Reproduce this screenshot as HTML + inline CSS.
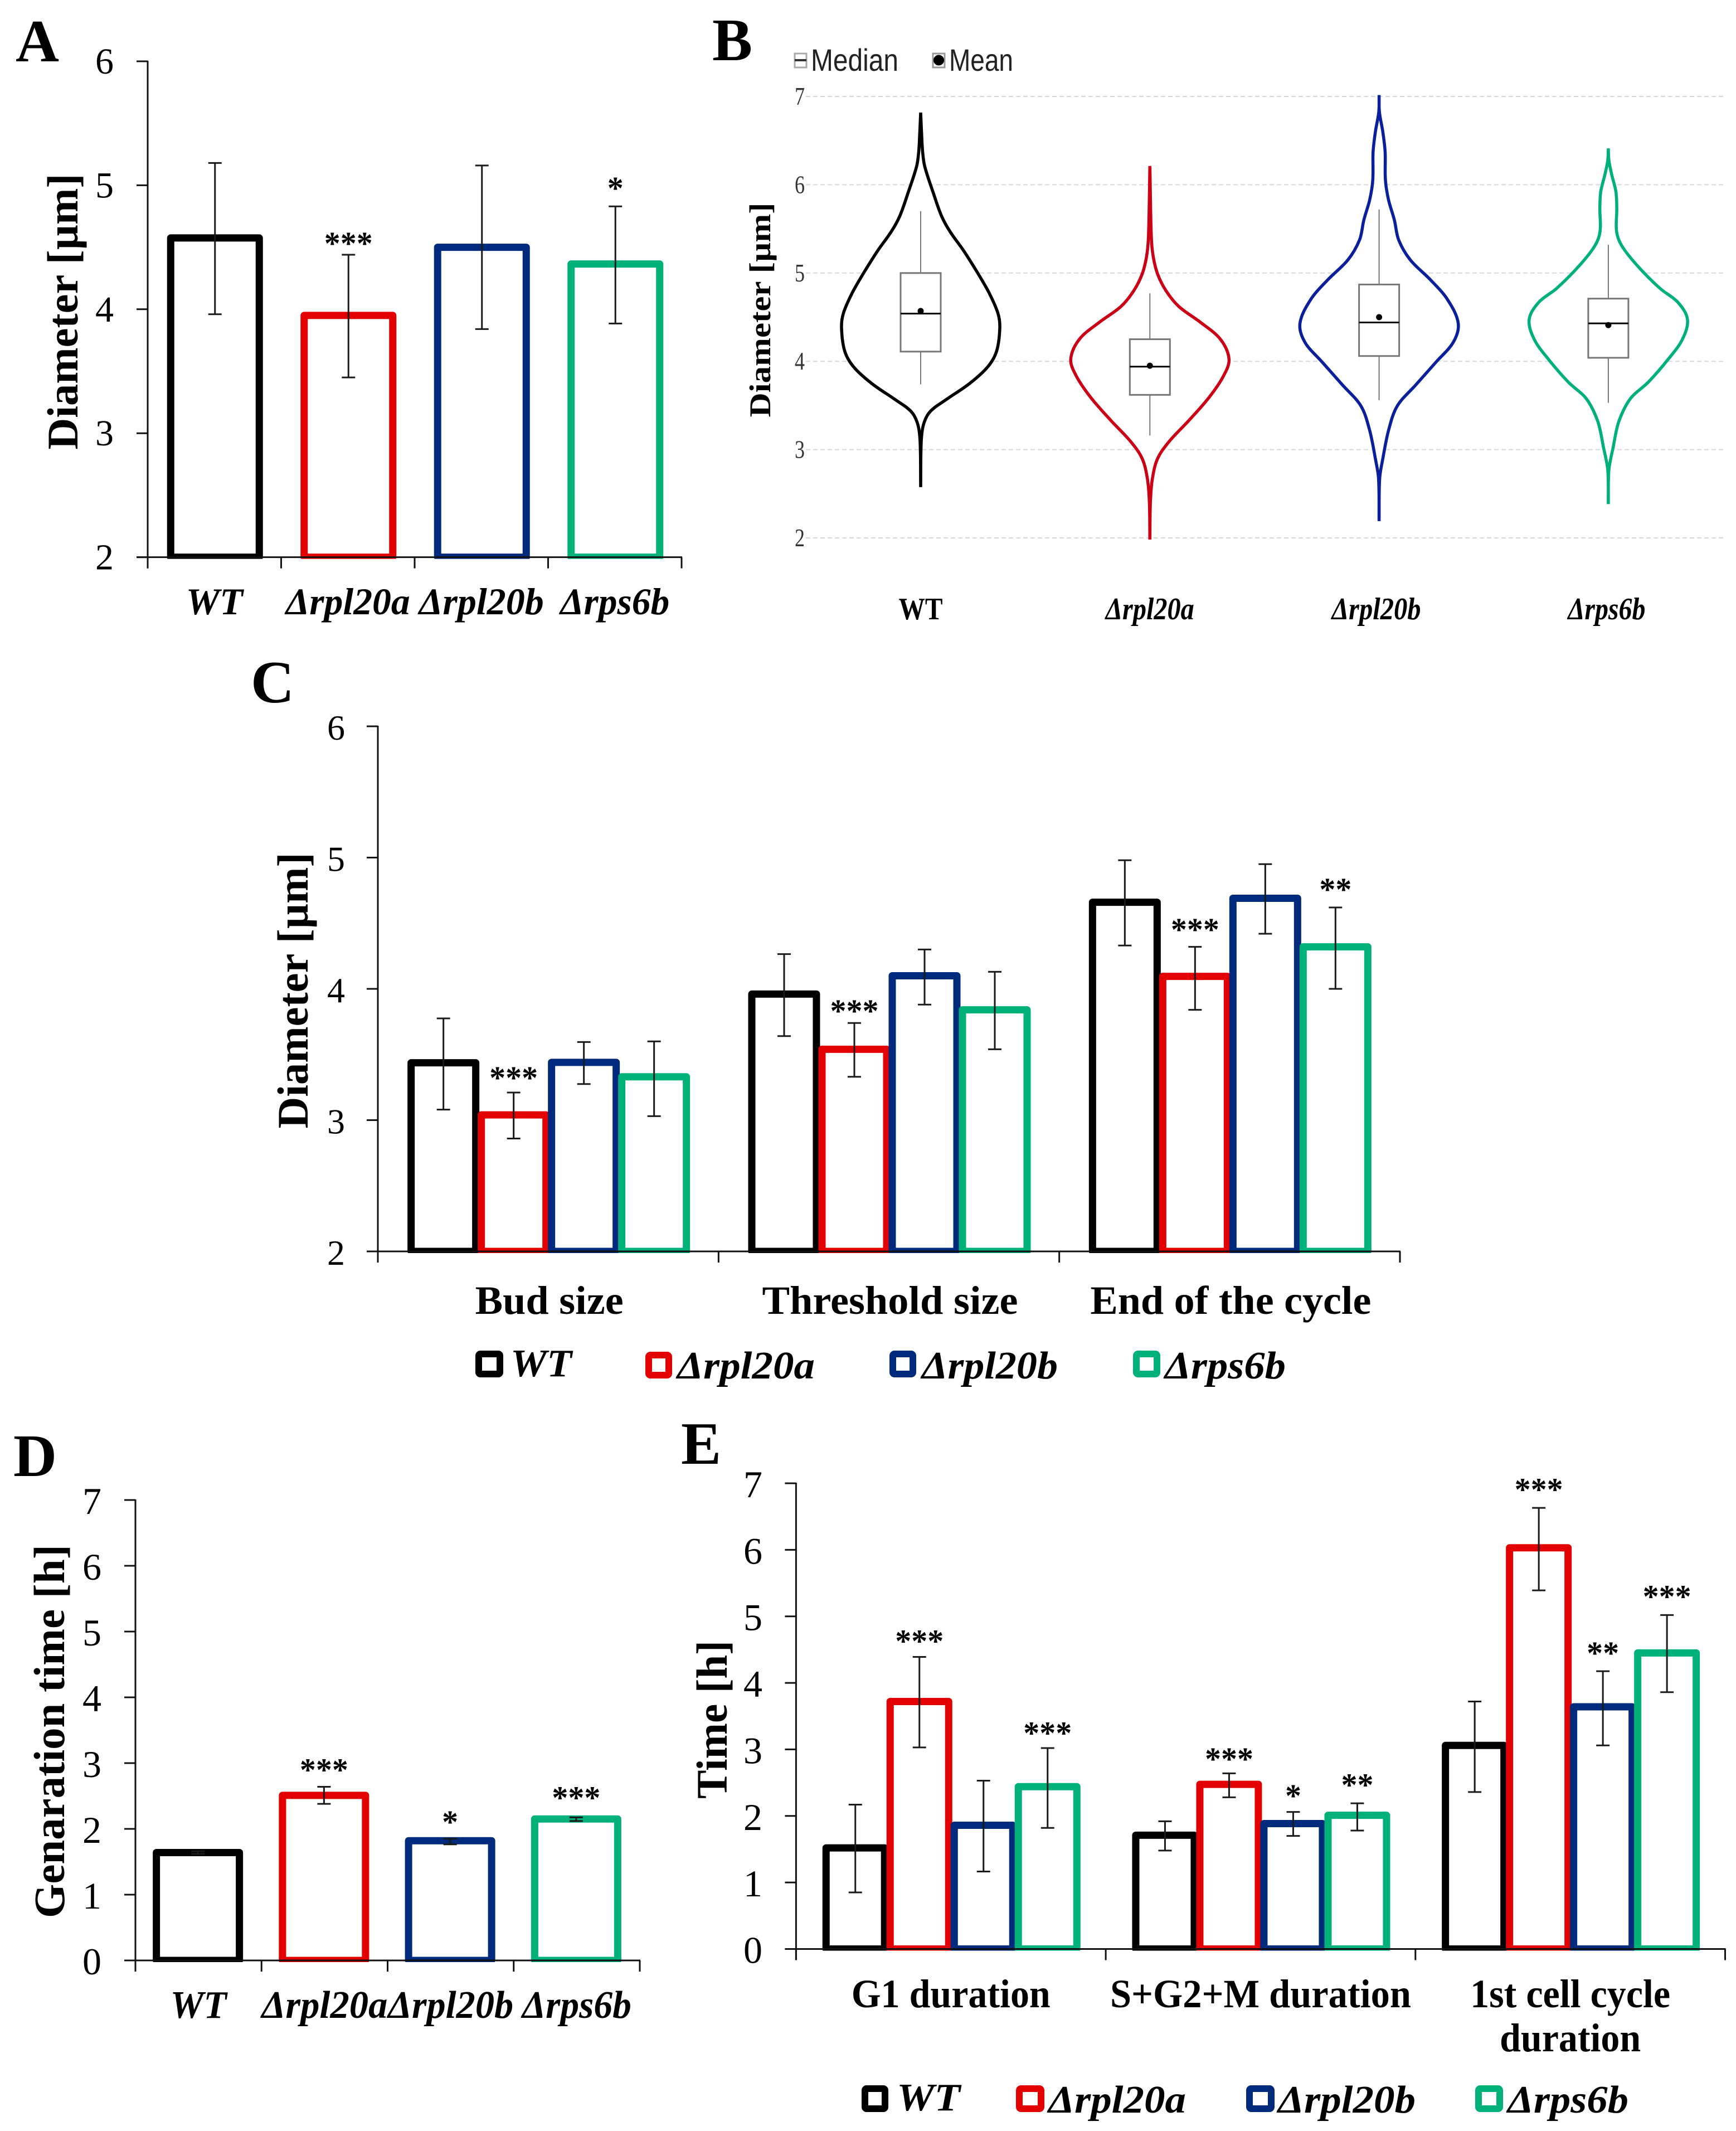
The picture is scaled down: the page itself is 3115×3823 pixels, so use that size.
<!DOCTYPE html>
<html lang="en">
<head>
<meta charset="utf-8">
<title>Cell size and cell cycle duration charts</title>
<style>
html,body{margin:0;padding:0;background:#fff;}
svg{display:block;}
text{font-family:"Liberation Serif","DejaVu Serif",serif;fill:#000;}
.letter{font-size:108px;font-weight:bold;}
.title{font-size:78px;font-weight:bold;}
.leg{font-size:70px;font-weight:bold;font-style:italic;}
.sans{font-family:"Liberation Sans","DejaVu Sans",sans-serif;fill:#222;}
</style>
</head>
<body>
<svg id="figure" xmlns="http://www.w3.org/2000/svg" width="3115" height="3823" viewBox="0 0 3115 3823">
  <rect x="0" y="0" width="3115" height="3823" fill="#fff"/>

  <text class="letter" x="28" y="110">A</text>
  <text class="letter" x="1278" y="108">B</text>
  <text class="letter" x="450" y="1260">C</text>
  <text class="letter" x="24" y="2648">D</text>
  <text class="letter" x="1222" y="2626">E</text>

  <text class="title" transform="translate(139 559) rotate(-90)" text-anchor="middle" textLength="495" lengthAdjust="spacingAndGlyphs">Diameter [µm]</text>
  <text class="title" style="font-size:54px" transform="translate(1382 556) rotate(-90)" text-anchor="middle" textLength="385" lengthAdjust="spacingAndGlyphs">Diameter [µm]</text>
  <text class="title" transform="translate(552 1777) rotate(-90)" text-anchor="middle" textLength="495" lengthAdjust="spacingAndGlyphs">Diameter [µm]</text>
  <text class="title" transform="translate(115 3106) rotate(-90)" text-anchor="middle" textLength="670" lengthAdjust="spacingAndGlyphs">Genaration time [h]</text>
  <text class="title" transform="translate(1304 3085) rotate(-90)" text-anchor="middle" textLength="284" lengthAdjust="spacingAndGlyphs">Time [h]</text>

  <g>
    <rect x="1426" y="96" width="21" height="25" fill="#fff" stroke="#aaa" stroke-width="3"/>
    <line x1="1426" y1="108" x2="1447" y2="108" stroke="#333" stroke-width="4"/>
    <text class="sans" x="1455" y="127" font-size="56" textLength="157" lengthAdjust="spacingAndGlyphs">Median</text>
    <rect x="1674" y="96" width="21" height="25" fill="#fff" stroke="#999" stroke-width="3"/>
    <circle cx="1684.500" cy="108" r="9.500" fill="#000"/>
    <text class="sans" x="1703" y="127" font-size="56" textLength="115" lengthAdjust="spacingAndGlyphs">Mean</text>
  </g>

  <g>
    <rect x="859" y="2429" width="38" height="36" rx="3" fill="#fff" stroke="#000" stroke-width="12"/>
    <text class="leg" x="916" y="2469" textLength="110" lengthAdjust="spacingAndGlyphs">WT</text>
    <rect x="1164" y="2431" width="36" height="36" rx="3" fill="#fff" stroke="#e30000" stroke-width="12"/>
    <text class="leg" x="1215" y="2473" textLength="247" lengthAdjust="spacingAndGlyphs">Δrpl20a</text>
    <rect x="1602" y="2429" width="36" height="36" rx="3" fill="#fff" stroke="#002a7c" stroke-width="12"/>
    <text class="leg" x="1654" y="2473" textLength="244" lengthAdjust="spacingAndGlyphs">Δrpl20b</text>
    <rect x="2039" y="2429" width="37" height="36" rx="3" fill="#fff" stroke="#00b17a" stroke-width="12"/>
    <text class="leg" x="2090" y="2473" textLength="217" lengthAdjust="spacingAndGlyphs">Δrps6b</text>
  </g>

  <g>
    <rect x="1552" y="3747" width="36" height="36" rx="3" fill="#fff" stroke="#000" stroke-width="12"/>
    <text class="leg" x="1609" y="3786" textLength="114" lengthAdjust="spacingAndGlyphs">WT</text>
    <rect x="1829" y="3747" width="39" height="36" rx="3" fill="#fff" stroke="#e30000" stroke-width="12"/>
    <text class="leg" x="1881" y="3790" textLength="247" lengthAdjust="spacingAndGlyphs">Δrpl20a</text>
    <rect x="2242" y="3747" width="39" height="36" rx="3" fill="#fff" stroke="#002a7c" stroke-width="12"/>
    <text class="leg" x="2293" y="3790" textLength="247" lengthAdjust="spacingAndGlyphs">Δrpl20b</text>
    <rect x="2653" y="3747" width="38" height="36" rx="3" fill="#fff" stroke="#00b17a" stroke-width="12"/>
    <text class="leg" x="2705" y="3790" textLength="217" lengthAdjust="spacingAndGlyphs">Δrps6b</text>
  </g>
</svg>

<script>
// ---------- Panel A data ----------
const strainNames = ['WT', 'Δrpl20a', 'Δrpl20b', 'Δrps6b'];
const aTicks = ['2', '3', '4', '5', '6'];
const aValues = [4.575, 3.95, 4.5, 4.365];
const aHigh = [5.18, 4.44, 5.16, 4.83];
const aLow = [3.96, 3.45, 3.84, 3.885];
const aStars = ['', '***', '', '*'];
const aStarLevels = [0, 4.565, 0, 5.01];

// ---------- Panel B data ----------
const bTicks = ['2', '3', '4', '5', '6', '7'];
const bLevelsWT = [6.817,6.533,6.373,6.212,5.922,5.649,5.472,5.246,4.989,4.764,4.539,4.378,4.12,3.943,3.75,3.573,3.429,3.284,3.09,2.576];
const bDensityWT = [0,.014,.025,.05,.154,.262,.369,.548,.728,.871,.978,1,.961,.853,.62,.333,.118,.036,.007,0];
const bLevelsA = [6.212,5.407,5.182,4.989,4.796,4.619,4.442,4.249,4.024,3.831,3.59,3.332,3.091,2.898,2.672,2.415,1.981];
const bDensityA = [0,.018,.043,.097,.206,.368,.639,.892,1,.928,.747,.495,.242,.097,.032,.007,0];
const bLevelsB = [7.016,6.823,6.598,6.373,6.051,5.826,5.6,5.375,5.15,4.925,4.699,4.43,4.217,3.992,3.734,3.493,3.22,2.898,2.672,2.19];
const bDensityB = [0,.004,.047,.076,.08,.12,.193,.247,.393,.647,.865,1,.938,.72,.465,.229,.12,.047,.007,0];
const bLevelsS = [6.411,6.276,6.115,5.922,5.729,5.472,5.311,5.086,4.828,4.667,4.474,4.249,4.024,3.766,3.573,3.316,3.026,2.769,2.383];
const bDensityS = [0,.007,.043,.096,.107,.104,.168,.364,.65,.88,1,.936,.757,.507,.275,.132,.061,.007,0];
const bBoxQ3 = [5.0, 4.25, 4.87, 4.71];
const bBoxQ1 = [4.11, 3.62, 4.06, 4.04];
const bMedian = [4.54, 3.94, 4.44, 4.43];
const bMean = [4.57, 3.95, 4.5, 4.41];
const bWhiskerHigh = [5.7, 4.77, 5.72, 5.32];
const bWhiskerLow = [3.74, 3.16, 3.56, 3.53];

// ---------- Panel C data ----------
const cCategories = ['Bud size', 'Threshold size', 'End of the cycle'];
const cTicks = ['2', '3', '4', '5', '6'];
const cValuesWT = [3.437, 3.96, 4.66];
const cHighWT = [3.775, 4.265, 4.98];
const cLowWT = [3.08, 3.64, 4.33];
const cValuesA = [3.04, 3.54, 4.095];
const cHighA = [3.21, 3.74, 4.32];
const cLowA = [2.86, 3.33, 3.84];
const cValuesB = [3.44, 4.1, 4.69];
const cHighB = [3.595, 4.3, 4.95];
const cLowB = [3.275, 3.88, 4.42];
const cValuesS = [3.33, 3.84, 4.32];
const cHighS = [3.6, 4.13, 4.62];
const cLowS = [3.03, 3.54, 4.0];
const cStarsA = ['***', '***', '***'];
const cStarLevelsA = [3.354, 3.865, 4.484];
const cStarsS = ['', '', '**'];
const cStarLevelsS = [0, 0, 4.79];

// ---------- Panel D data ----------
const dTicks = ['0', '1', '2', '3', '4', '5', '6', '7'];
const dValues = [1.64, 2.51, 1.82, 2.15];
const dHigh = [1.66, 2.64, 1.85, 2.175];
const dLow = [1.62, 2.38, 1.765, 2.12];
const dStars = ['', '***', '*', '***'];
const dStarLevels = [0, 2.96, 2.17, 2.54];

// ---------- Panel E data ----------
const eCategories = ['G1 duration', 'S+G2+M duration', '1st cell cycle|duration'];
const eTicks = ['0', '1', '2', '3', '4', '5', '6', '7'];
const eValuesWT = [1.52, 1.71, 3.06];
const eHighWT = [2.17, 1.92, 3.72];
const eLowWT = [0.85, 1.48, 2.36];
const eValuesA = [3.72, 2.475, 6.03];
const eHighA = [4.39, 2.64, 6.63];
const eLowA = [3.03, 2.28, 5.39];
const eValuesB = [1.86, 1.885, 3.64];
const eHighB = [2.53, 2.06, 4.175];
const eLowB = [1.165, 1.70, 3.06];
const eValuesS = [2.44, 2.01, 4.45];
const eHighS = [3.02, 2.19, 5.02];
const eLowS = [1.82, 1.78, 3.86];
const eStarsA = ['***', '***', '***'];
const eStarLevelsA = [4.69, 2.92, 6.97];
const eStarsB = ['', '*', '**'];
const eStarLevelsB = [0, 2.365, 4.51];
const eStarsS = ['***', '**', '***'];
const eStarLevelsS = [3.31, 2.53, 5.36];

// ---------- Drawing helpers ----------
const SVGNS = 'http://www.w3.org/2000/svg';
const svg = document.getElementById('figure');
const strainColors = ['#000000', '#e30000', '#002a7c', '#00b17a'];
const strainKeys = ['wt', 'rpl20a', 'rpl20b', 'rps6b'];

function mk(tag, attrs, parent) {
  const node = document.createElementNS(SVGNS, tag);
  for (const k in attrs) node.setAttribute(k, attrs[k]);
  parent.appendChild(node);
  return node;
}

function makeScale(d0, d1, r0, r1) {
  return function (v) { return r0 + (v - d0) * (r1 - r0) / (d1 - d0); };
}

// Bars sit on the axis: the lower part of their outline is cut 3px under it
function makeBarLayer(cfg, parent) {
  const clipId = cfg.id + '-bar-clip';
  const clip = mk('clipPath', { id: clipId }, parent);
  
  
  mk('rect', { x: 0, y: 0, width: 3115, height: cfg.y(cfg.baseValue) + 3 }, clip);
  const layer = mk('g', { 'clip-path': 'url(#' + clipId + ')' }, parent);
  
  
  return layer;
}

function drawAxes(cfg, ticks, catCount, parent) {
  const y = cfg.y;
  const yAxis = mk('line', { x1: cfg.x0, x2: cfg.x0, y1: y(+ticks[ticks.length - 1]) - 1, y2: y(+ticks[0]) + cfg.tickLen, stroke: '#111', 'stroke-width': cfg.axisW }, parent);
  
  
  const xAxis = mk('line', { x1: cfg.x0 - cfg.tickLen, x2: cfg.x1 + 1, y1: y(+ticks[0]), y2: y(+ticks[0]), stroke: '#111', 'stroke-width': cfg.axisW }, parent);
  
  
  ticks.forEach(function (t) {
    const tickMark = mk('line', { x1: cfg.x0 - cfg.tickLen, x2: cfg.x0, y1: y(+t), y2: y(+t), stroke: '#111', 'stroke-width': cfg.axisW }, parent);
    
    
    const tickLabel = mk('text', { x: cfg.tickRight, y: y(+t) + cfg.tickBase, 'text-anchor': 'end', 'font-size': cfg.tickFont }, parent);
    tickLabel.textContent = t;
    
    
  });
  const step = (cfg.x1 - cfg.x0) / catCount;
  for (let i = 0; i <= catCount; i++) {
    const xt = cfg.x0 + step * i;
    const xTick = mk('line', { x1: xt, x2: xt, y1: y(+ticks[0]), y2: y(+ticks[0]) + cfg.tickLen, stroke: '#111', 'stroke-width': cfg.axisW }, parent);
    
    
  }
}

function drawCatLabels(cfg, labels, parent) {
  const step = (cfg.x1 - cfg.x0) / labels.length;
  labels.forEach(function (label, i) {
    const lines = label.split('|');
    lines.forEach(function (line, j) {
      const attrs = { x: cfg.x0 + step * (i + 0.5) + cfg.labelDx, y: cfg.labelY + j * cfg.lineGap, 'text-anchor': 'middle', 'font-size': cfg.labelFont, 'font-weight': 'bold' };
      if (cfg.labelItalic) attrs['font-style'] = 'italic';
      if (j === 0) { attrs.textLength = cfg.labelWidths[i]; attrs.lengthAdjust = 'spacingAndGlyphs'; }
      else { attrs.textLength = cfg.secondLineWidth; attrs.lengthAdjust = 'spacingAndGlyphs'; }
      const catLabel = mk('text', attrs, parent);
      catLabel.textContent = line;
      
      
    });
  });
}

function drawBar(cfg, cx, value, color, name, parent) {
  const top = cfg.y(value);
  const base = cfg.y(cfg.baseValue);
  const w = cfg.barOuter - cfg.barStroke;
  const bar = mk('rect', { x: cx - w / 2, y: top, width: w, height: Math.max(base - top, 0), fill: 'none', stroke: color, 'stroke-width': cfg.barStroke, 'stroke-linejoin': 'round' }, parent);
  
  
}

function drawError(cfg, cx, high, low, name, parent) {
  const g = mk('g', { stroke: '#1a1a1a', 'stroke-width': 3 }, parent);
  
  
  mk('line', { x1: cx, x2: cx, y1: cfg.y(high), y2: cfg.y(low) }, g);
  mk('line', { x1: cx - 12, x2: cx + 12, y1: cfg.y(high), y2: cfg.y(high) }, g);
  mk('line', { x1: cx - 12, x2: cx + 12, y1: cfg.y(low), y2: cfg.y(low) }, g);
}

function drawStars(cfg, cx, stars, level, name, parent) {
  if (!stars) return;
  const mark = mk('text', { x: cx, y: cfg.y(level) + 27, 'text-anchor': 'middle', 'font-size': 58, 'font-weight': 'bold' }, parent);
  mark.textContent = stars;
  
  
}

function drawSingleSeries(cfg, ticks, values, high, low, stars, levels) {
  const g = mk('g', {}, svg);
  
  
  const step = (cfg.x1 - cfg.x0) / values.length;
  const barLayer = makeBarLayer(cfg, g);
  values.forEach(function (v, i) {
    const cx = cfg.x0 + step * (i + 0.5) + cfg.barDx;
    drawBar(cfg, cx, v, strainColors[i], cfg.id + '-bar-' + strainKeys[i], barLayer);
  });
  drawAxes(cfg, ticks, values.length, g);
  values.forEach(function (v, i) {
    const cx = cfg.x0 + step * (i + 0.5) + cfg.barDx;
    drawError(cfg, cx, high[i], low[i], cfg.id + '-error-bar-' + strainKeys[i], g);
    drawStars(cfg, cx, stars[i], levels[i], cfg.id + '-significance-' + strainKeys[i], g);
  });
  drawCatLabels(cfg, strainNames, g);
}

function drawGrouped(cfg, ticks, categories, seriesValues, seriesHigh, seriesLow, seriesStars, seriesLevels) {
  const g = mk('g', {}, svg);
  
  
  const step = (cfg.x1 - cfg.x0) / categories.length;
  const barX = function (c, s) { return cfg.x0 + step * (c + 0.5) + (s - 1.5) * cfg.barSpacing + 1; };
  const barLayer = makeBarLayer(cfg, g);
  categories.forEach(function (cat, c) {
    seriesValues.forEach(function (vals, s) {
      drawBar(cfg, barX(c, s), vals[c], strainColors[s], cfg.id + '-bar-' + strainKeys[s] + '-' + c, barLayer);
    });
  });
  drawAxes(cfg, ticks, categories.length, g);
  categories.forEach(function (cat, c) {
    seriesValues.forEach(function (vals, s) {
      drawError(cfg, barX(c, s), seriesHigh[s][c], seriesLow[s][c], cfg.id + '-error-bar-' + strainKeys[s] + '-' + c, g);
      if (seriesStars[s]) drawStars(cfg, barX(c, s), seriesStars[s][c], seriesLevels[s][c], cfg.id + '-significance-' + strainKeys[s] + '-' + c, g);
    });
  });
  drawCatLabels(cfg, categories, g);
}

// Smooth run of curve segments; handle lengths follow each segment so uneven spacing does not wobble
function smoothSegments(pts) {
  const tangent = function (i) {
    const a = pts[Math.max(i - 1, 0)], b = pts[Math.min(i + 1, pts.length - 1)];
    const dx = b[0] - a[0], dy = b[1] - a[1];
    const len = Math.hypot(dx, dy) || 1;
    return [dx / len, dy / len];
  };
  let d = '';
  for (let i = 0; i < pts.length - 1; i++) {
    const p1 = pts[i], p2 = pts[i + 1];
    const seg = Math.hypot(p2[0] - p1[0], p2[1] - p1[1]) / 3;
    const t1 = tangent(i), t2 = tangent(i + 1);
    const c1x = p1[0] + t1[0] * seg, c1y = p1[1] + t1[1] * seg;
    const c2x = p2[0] - t2[0] * seg, c2y = p2[1] - t2[1] * seg;
    d += 'C' + c1x.toFixed(1) + ' ' + c1y.toFixed(1) + ' ' + c2x.toFixed(1) + ' ' + c2y.toFixed(1) + ' ' + p2[0].toFixed(1) + ' ' + p2[1].toFixed(1);
  }
  return d;
}

// Violin outline: each side is smoothed on its own so both tips stay sharp
function violinPath(right, left) {
  return 'M' + right[0][0].toFixed(1) + ' ' + right[0][1].toFixed(1) + smoothSegments(right) + smoothSegments(left) + 'Z';
}

// ---------- Panel A ----------
drawSingleSeries({
  id: 'panel-a', x0: 265, x1: 1223, y: makeScale(2, 6, 999.6, 110), baseValue: 2,
  axisW: 3, tickLen: 20, tickRight: 204, tickBase: 22, tickFont: 66,
  barOuter: 172, barStroke: 13, barDx: 1, labelY: 1102, labelFont: 68, labelDx: 0, lineGap: 0,
  labelWidths: [102, 223, 224, 196], labelItalic: true
}, aTicks, aValues, aHigh, aLow, aStars, aStarLevels);

// ---------- Panel B ----------
(function () {
  const g = mk('g', {}, svg);
  
  
  const y = makeScale(2, 7, 965, 173);
  const x0 = 1446, x1 = 3094;
  const firstCenter = 1652, centerStep = 411.3;
  const colors = ['#000000', '#cc0014', '#0a1f9c', '#00b07c'];
  const levels = [bLevelsWT, bLevelsA, bLevelsB, bLevelsS];
  const densities = [bDensityWT, bDensityA, bDensityB, bDensityS];
  const maxHalf = 142, boxHalf = 36;

  bTicks.forEach(function (t) {
    const grid = mk('line', { x1: x0, x2: x1, y1: y(+t), y2: y(+t), stroke: '#d8d8d8', 'stroke-width': 2, 'stroke-dasharray': '8 5' }, g);
    
    
    const tickLabel = mk('text', { x: 1435, y: y(+t) + 15, 'text-anchor': 'middle', 'font-size': 46, textLength: 18, lengthAdjust: 'spacingAndGlyphs', style: 'fill:#333' }, g);
    tickLabel.textContent = t;
    
    
  });

  levels.forEach(function (lv, i) {
    const cx = firstCenter + centerStep * i;
    const right = lv.map(function (v, k) { return [cx + densities[i][k] * maxHalf, y(v)]; });
    const left = lv.map(function (v, k) { return [cx - densities[i][k] * maxHalf, y(v)]; }).reverse();
    const violin = mk('path', { d: violinPath(right, left), fill: '#fff', stroke: colors[i], 'stroke-width': 5.5, 'stroke-linejoin': 'miter' }, g);
    
    

    const whisker = mk('line', { x1: cx, x2: cx, y1: y(bWhiskerHigh[i]), y2: y(bWhiskerLow[i]), stroke: '#777', 'stroke-width': 2 }, g);
    
    

    const box = mk('rect', { x: cx - boxHalf, y: y(bBoxQ3[i]), width: boxHalf * 2, height: y(bBoxQ1[i]) - y(bBoxQ3[i]), fill: '#fff', stroke: '#777', 'stroke-width': 3 }, g);
    
    

    const median = mk('line', { x1: cx - boxHalf, x2: cx + boxHalf, y1: y(bMedian[i]), y2: y(bMedian[i]), stroke: '#000', 'stroke-width': 3 }, g);
    
    

    const mean = mk('circle', { cx: cx, cy: y(bMean[i]), r: 5.5, fill: '#000' }, g);
    
    
  });

  const bLabelWidths = [79, 159, 160, 139];
  const bLabelDx = [0, 0, -5, -3];
  strainNames.forEach(function (name, i) {
    const cat = mk('text', { x: firstCenter + centerStep * i + bLabelDx[i], y: 1111, 'text-anchor': 'middle', 'font-size': 56, 'font-weight': 'bold', textLength: bLabelWidths[i], lengthAdjust: 'spacingAndGlyphs' }, g);
    if (i > 0) cat.setAttribute('font-style', 'italic');
    cat.textContent = name;
    
    
  });
})();

// ---------- Panel C ----------
drawGrouped({
  id: 'panel-c', x0: 678, x1: 2512, y: makeScale(2, 6, 2245, 1303), baseValue: 2,
  axisW: 3, tickLen: 20, tickRight: 619, tickBase: 24, tickFont: 64,
  barSpacing: 126, barOuter: 129, barStroke: 13, labelY: 2357, labelFont: 72, labelDx: 2, lineGap: 0,
  labelWidths: [266, 459, 504]
}, cTicks, cCategories,
  [cValuesWT, cValuesA, cValuesB, cValuesS],
  [cHighWT, cHighA, cHighB, cHighS],
  [cLowWT, cLowA, cLowB, cLowS],
  [null, cStarsA, null, cStarsS],
  [null, cStarLevelsA, null, cStarLevelsS]);

// ---------- Panel D ----------
drawSingleSeries({
  id: 'panel-d', x0: 243, x1: 1148, y: makeScale(0, 7, 3517, 2691), baseValue: 0,
  axisW: 3, tickLen: 20, tickRight: 182, tickBase: 25, tickFont: 68,
  barOuter: 162, barStroke: 13, barDx: -1, labelY: 3620, labelFont: 70, labelDx: 0, lineGap: 0,
  labelWidths: [101, 226, 225, 196], labelItalic: true
}, dTicks, dValues, dHigh, dLow, dStars, dStarLevels);

// ---------- Panel E ----------
drawGrouped({
  id: 'panel-e', x0: 1428.4, x1: 3095.5, y: makeScale(0, 7, 3496.5, 2661), baseValue: 0,
  axisW: 3, tickLen: 20, tickRight: 1368, tickBase: 25, tickFont: 68,
  barSpacing: 115, barOuter: 118, barStroke: 13, labelY: 3601, labelFont: 72, labelDx: 0, lineGap: 79,
  labelWidths: [357, 540, 359], secondLineWidth: 253
}, eTicks, eCategories,
  [eValuesWT, eValuesA, eValuesB, eValuesS],
  [eHighWT, eHighA, eHighB, eHighS],
  [eLowWT, eLowA, eLowB, eLowS],
  [null, eStarsA, eStarsB, eStarsS],
  [null, eStarLevelsA, eStarLevelsB, eStarLevelsS]);
</script>
</body>
</html>
